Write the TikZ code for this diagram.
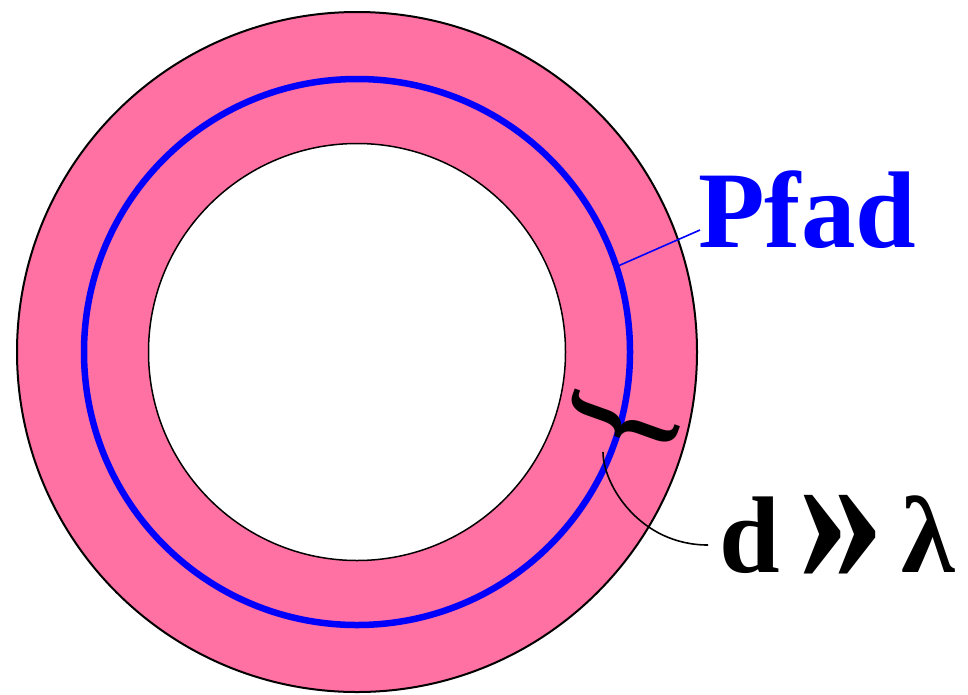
\documentclass[tikz,border=0pt]{standalone}
\usepackage{fontspec}
\setmainfont{Liberation Serif}
\definecolor{ringpink}{RGB}{255,112,163}
\definecolor{pathblue}{RGB}{0,0,255}
\begin{document}
\begin{tikzpicture}[x=1pt,y=-1pt,
  ring/.style={circle, draw=black, inner sep=0pt, outer sep=0pt},
  bigtext/.style={font=\fontsize{109}{120}\selectfont\bfseries, inner sep=0pt, anchor=base west},
  thinline/.style={line width=1.6pt}]
\useasboundingbox (0,0) rectangle (968,694);
% rings
\node[ring, fill=ringpink, line width=2pt, minimum size=680] (outer) at (357,352) {};
\node[ring, fill=white, line width=1.5pt, minimum size=417] (inner) at (357,352) {};
\node[circle, draw=pathblue, line width=6.5pt, inner sep=0pt, minimum size=546] (pathc) at (357,352) {};
% brace
\node[font=\fontsize{135}{135}\selectfont\bfseries, rotate=-109.7, xscale=0.72, inner sep=0pt] (brace) at (623,422) {\}};
% labels
\node[bigtext, text=pathblue] (pfad) at (698,247) {Pfad};
\node[bigtext] (dl) at (719,572) {d\makebox[122pt][c]{\raisebox{-9pt}{\scalebox{1.6}[1.9]{»}}}λ};
% connectors
\coordinate (pfadend) at (700,230);
\coordinate (pathpt) at (618,266);
\draw[pathblue, thinline] (pathpt) -- (pfadend);
\coordinate (tipc) at (603,452);
\coordinate (dlend) at (708,545);
\draw[black, thinline] (tipc) .. controls (603,485) and (640,545) .. (dlend);
\end{tikzpicture}
\end{document}
